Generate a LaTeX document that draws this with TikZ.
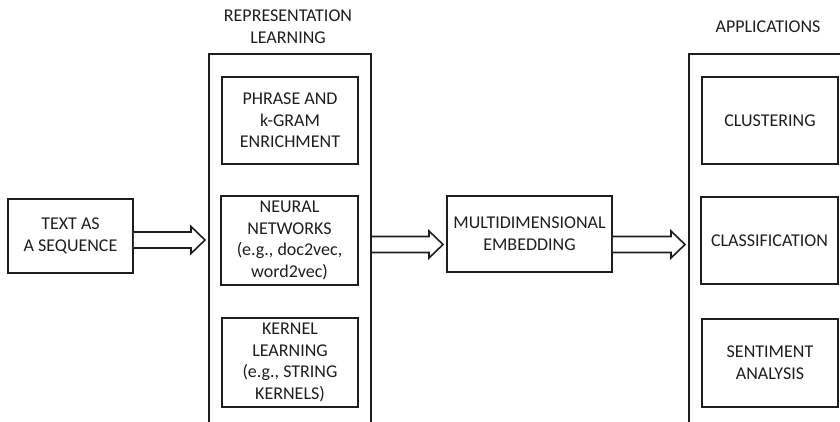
\documentclass[tikz,border=0pt]{standalone}
\usepackage{fontspec}
\setmainfont{Carlito}
\usetikzlibrary{calc}
\definecolor{ink}{HTML}{1E1E1E}
\tikzset{
  box/.style={draw=ink, line width=1.6pt, rectangle, align=center, text=ink,
              inner sep=0pt, font=\fontsize{18}{21.7}\selectfont},
  frame/.style={draw=ink, line width=1.6pt},
  title/.style={align=center, text=ink, font=\fontsize{18}{21.7}\selectfont},
  fat/.style={draw=ink, line width=1.6pt, fill=white, line join=miter}
}
% hollow block arrow between two named points (same height)
\newcommand{\fatarr}[2]{%
  \draw[fat] let \p1=(#1), \p2=(#2) in
    (\x1,\y1+8pt) -- (\x2-14pt,\y1+8pt) -- (\x2-14pt,\y1+13.5pt) -- (\x2,\y1)
    -- (\x2-14pt,\y1-13.5pt) -- (\x2-14pt,\y1-8pt) -- (\x1,\y1-8pt);}
\begin{document}
\begin{tikzpicture}[x=1pt,y=-1pt]
\useasboundingbox (0,0) rectangle (840,421);
\clip (0,0) rectangle (840,421);

% group frames, running off the lower and right edges
\draw[frame] (209,440) -- (209,54) -- (371,54) -- (371,440);
\draw[frame] (689,440) -- (689,54) -- (870,54);

\node[title] (reptitle) at (288,27) {REPRESENTATION\\LEARNING};
\node[title] (apptitle) at (768,27) {APPLICATIONS};

\node[box, minimum width=125, minimum height=74] (txt) at (70.5,236) {TEXT AS\\A SEQUENCE};

\node[box, minimum width=136, minimum height=87] (phrase) at (290,120.5) {PHRASE AND\\k-GRAM\\ENRICHMENT};
\node[box, minimum width=137, minimum height=89] (neural) at (289.5,240.5) {NEURAL\\NETWORKS\\(e.g., doc2vec,\\word2vec)};
\node[box, minimum width=136, minimum height=89] (kernel) at (290,362.5) {KERNEL\\LEARNING\\(e.g., STRING\\KERNELS)};

\node[box, minimum width=165, minimum height=76] (multi) at (529.5,234) {MULTIDIMENSIONAL\\EMBEDDING};

\node[box, minimum width=136, minimum height=87] (clus) at (770,120.5) {CLUSTERING};
\node[box, minimum width=137, minimum height=87] (class) at (769.5,240.5) {CLASSIFICATION};
\node[box, minimum width=136, minimum height=88] (sent) at (770,363) {SENTIMENT\\ANALYSIS};

% arrow end points
\coordinate (a1s) at (txt.east |- 0,240);
\coordinate (a1e) at (205,240);
\coordinate (a2s) at (372,244.5);
\coordinate (a2e) at (443,244.5);
\coordinate (a3s) at (multi.east |- 0,244.5);
\coordinate (a3e) at (685,244.5);

\fatarr{a1s}{a1e}
\fatarr{a2s}{a2e}
\fatarr{a3s}{a3e}
\end{tikzpicture}
\end{document}
